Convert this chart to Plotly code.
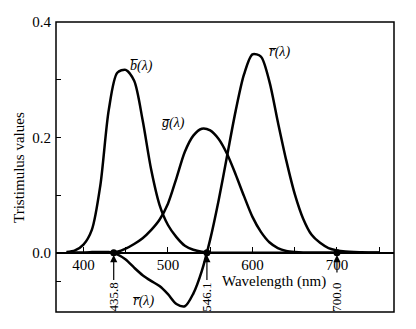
import plotly.graph_objects as go

# Wavelengths (nm) and tristimulus values
wavelength = [380, 390, 400, 410, 420, 430, 440, 450, 460, 470, 480, 490, 500,
              510, 520, 530, 540, 550, 560, 570, 580, 590, 600, 610, 620, 630,
              640, 650, 660, 670, 680, 690, 700, 710, 720, 730, 740, 750]
r_bar = [0.0, 0.0, 0.0, 0.001, 0.001, 0.001, -0.003, -0.012, -0.026, -0.039,
         -0.049, -0.058, -0.072, -0.089, -0.093, -0.071, -0.032, 0.023, 0.091,
         0.168, 0.245, 0.309, 0.344, 0.340, 0.297, 0.227, 0.160, 0.102, 0.059,
         0.031, 0.017, 0.008, 0.004, 0.002, 0.001, 0.0005, 0.0, 0.0]
g_bar = [0.0, 0.0, 0.0, 0.0, 0.0, 0.0, 0.0015, 0.007, 0.015, 0.025, 0.039,
         0.057, 0.085, 0.129, 0.175, 0.203, 0.215, 0.212, 0.197, 0.171, 0.136,
         0.098, 0.062, 0.036, 0.018, 0.008, 0.003, 0.001, 0.0, 0.0, 0.0, 0.0,
         0.0, 0.0, 0.0, 0.0, 0.0, 0.0]
b_bar = [0.001, 0.004, 0.014, 0.040, 0.117, 0.248, 0.312, 0.317, 0.298, 0.230,
         0.145, 0.083, 0.048, 0.027, 0.012, 0.005, 0.0015, 0.0, 0.0, 0.0, 0.0,
         0.0, 0.0, 0.0, 0.0, 0.0, 0.0, 0.0, 0.0, 0.0, 0.0, 0.0, 0.0, 0.0, 0.0,
         0.0, 0.0, 0.0]

primaries = [435.8, 546.1, 700.0]
primary_labels = ["435.8", "546.1", "700.0"]

x_ticks = [400, 450, 500, 550, 600, 650, 700, 750]
x_ticktext = ["400", "", "500", "", "600", "", "700", ""]
y_ticks = [-0.05, 0.0, 0.1, 0.2, 0.3, 0.4]
y_ticktext = ["", "0.0", "", "0.2", "", "0.4"]

FONT = "Liberation Serif"
OL = "\u0305"

fig = go.Figure()
for ys in (b_bar, g_bar, r_bar):
    fig.add_trace(go.Scatter(x=wavelength, y=ys, mode="lines",
                             line=dict(color="black", width=2.5, shape="spline", smoothing=0.8),
                             showlegend=False, hoverinfo="skip"))

fig.add_trace(go.Scatter(x=primaries, y=[0, 0, 0], mode="markers",
                         marker=dict(color="black", size=7), showlegend=False))

YMIN, YMAX = -0.1029, 0.4
annotations = []
# curve labels
for txt, x, y in [("b", 468.4, 0.324), ("g", 506.9, 0.225), ("r", 631.8, 0.348), ("r", 470.8, -0.0837)]:
    annotations.append(dict(x=x, y=y, xref="x", yref="y", showarrow=False,
                            text=f"<i>{txt}{OL}(λ)</i>", font=dict(family=FONT, size=14, color="black")))
# primary wavelength labels and arrows
for w, lab in zip(primaries, primary_labels):
    annotations.append(dict(x=w, y=-0.0765, xref="x", yref="y", showarrow=False, textangle=-90,
                            xanchor="center", yanchor="middle",
                            text=lab, font=dict(family=FONT, size=13, color="black")))
    tail = -0.050 if lab != "700.0" else -0.037
    annotations.append(dict(x=w, y=-0.004, ax=w, ay=tail, xref="x", yref="y", axref="x", ayref="y",
                            text="", showarrow=True, arrowhead=2, arrowsize=1.2, arrowwidth=1.2,
                            arrowcolor="black"))
# axis titles
annotations.append(dict(x=625.8, y=-0.0496, xref="x", yref="y", showarrow=False,
                        xanchor="center", yanchor="middle",
                        text="Wavelength (nm)", font=dict(family=FONT, size=15, color="black")))
annotations.append(dict(x=-0.1095, y=0.5, xref="paper", yref="paper", showarrow=False, textangle=-90,
                        xanchor="center", yanchor="middle",
                        text="Tristimulus values", font=dict(family=FONT, size=15, color="black")))

fig.update_layout(
    width=416, height=329,
    margin=dict(l=56, r=22, t=22, b=17),
    plot_bgcolor="white", paper_bgcolor="white",
    font=dict(family=FONT, size=14, color="black"),
    annotations=annotations,
    shapes=[dict(type="rect", xref="paper", yref="paper", x0=0, x1=1, y0=0, y1=1,
                 line=dict(color="black", width=1.5))],
    xaxis=dict(range=[367.5, 767.5], anchor="free", position=(0 - YMIN) / (YMAX - YMIN),
               showline=True, linecolor="black", linewidth=2, zeroline=False, showgrid=False,
               ticks="inside", ticklen=5, tickwidth=1, tickcolor="black", ticklabelstandoff=-2,
               tickvals=x_ticks, ticktext=x_ticktext, tickfont=dict(family=FONT, size=15)),
    yaxis=dict(range=[YMIN, YMAX], showline=False, zeroline=False, showgrid=False,
               ticks="inside", ticklen=5, tickwidth=1, tickcolor="black", ticklabelstandoff=4,
               tickvals=y_ticks, ticktext=y_ticktext, tickfont=dict(family=FONT, size=15)),
)

fig.write_html("out.html")
